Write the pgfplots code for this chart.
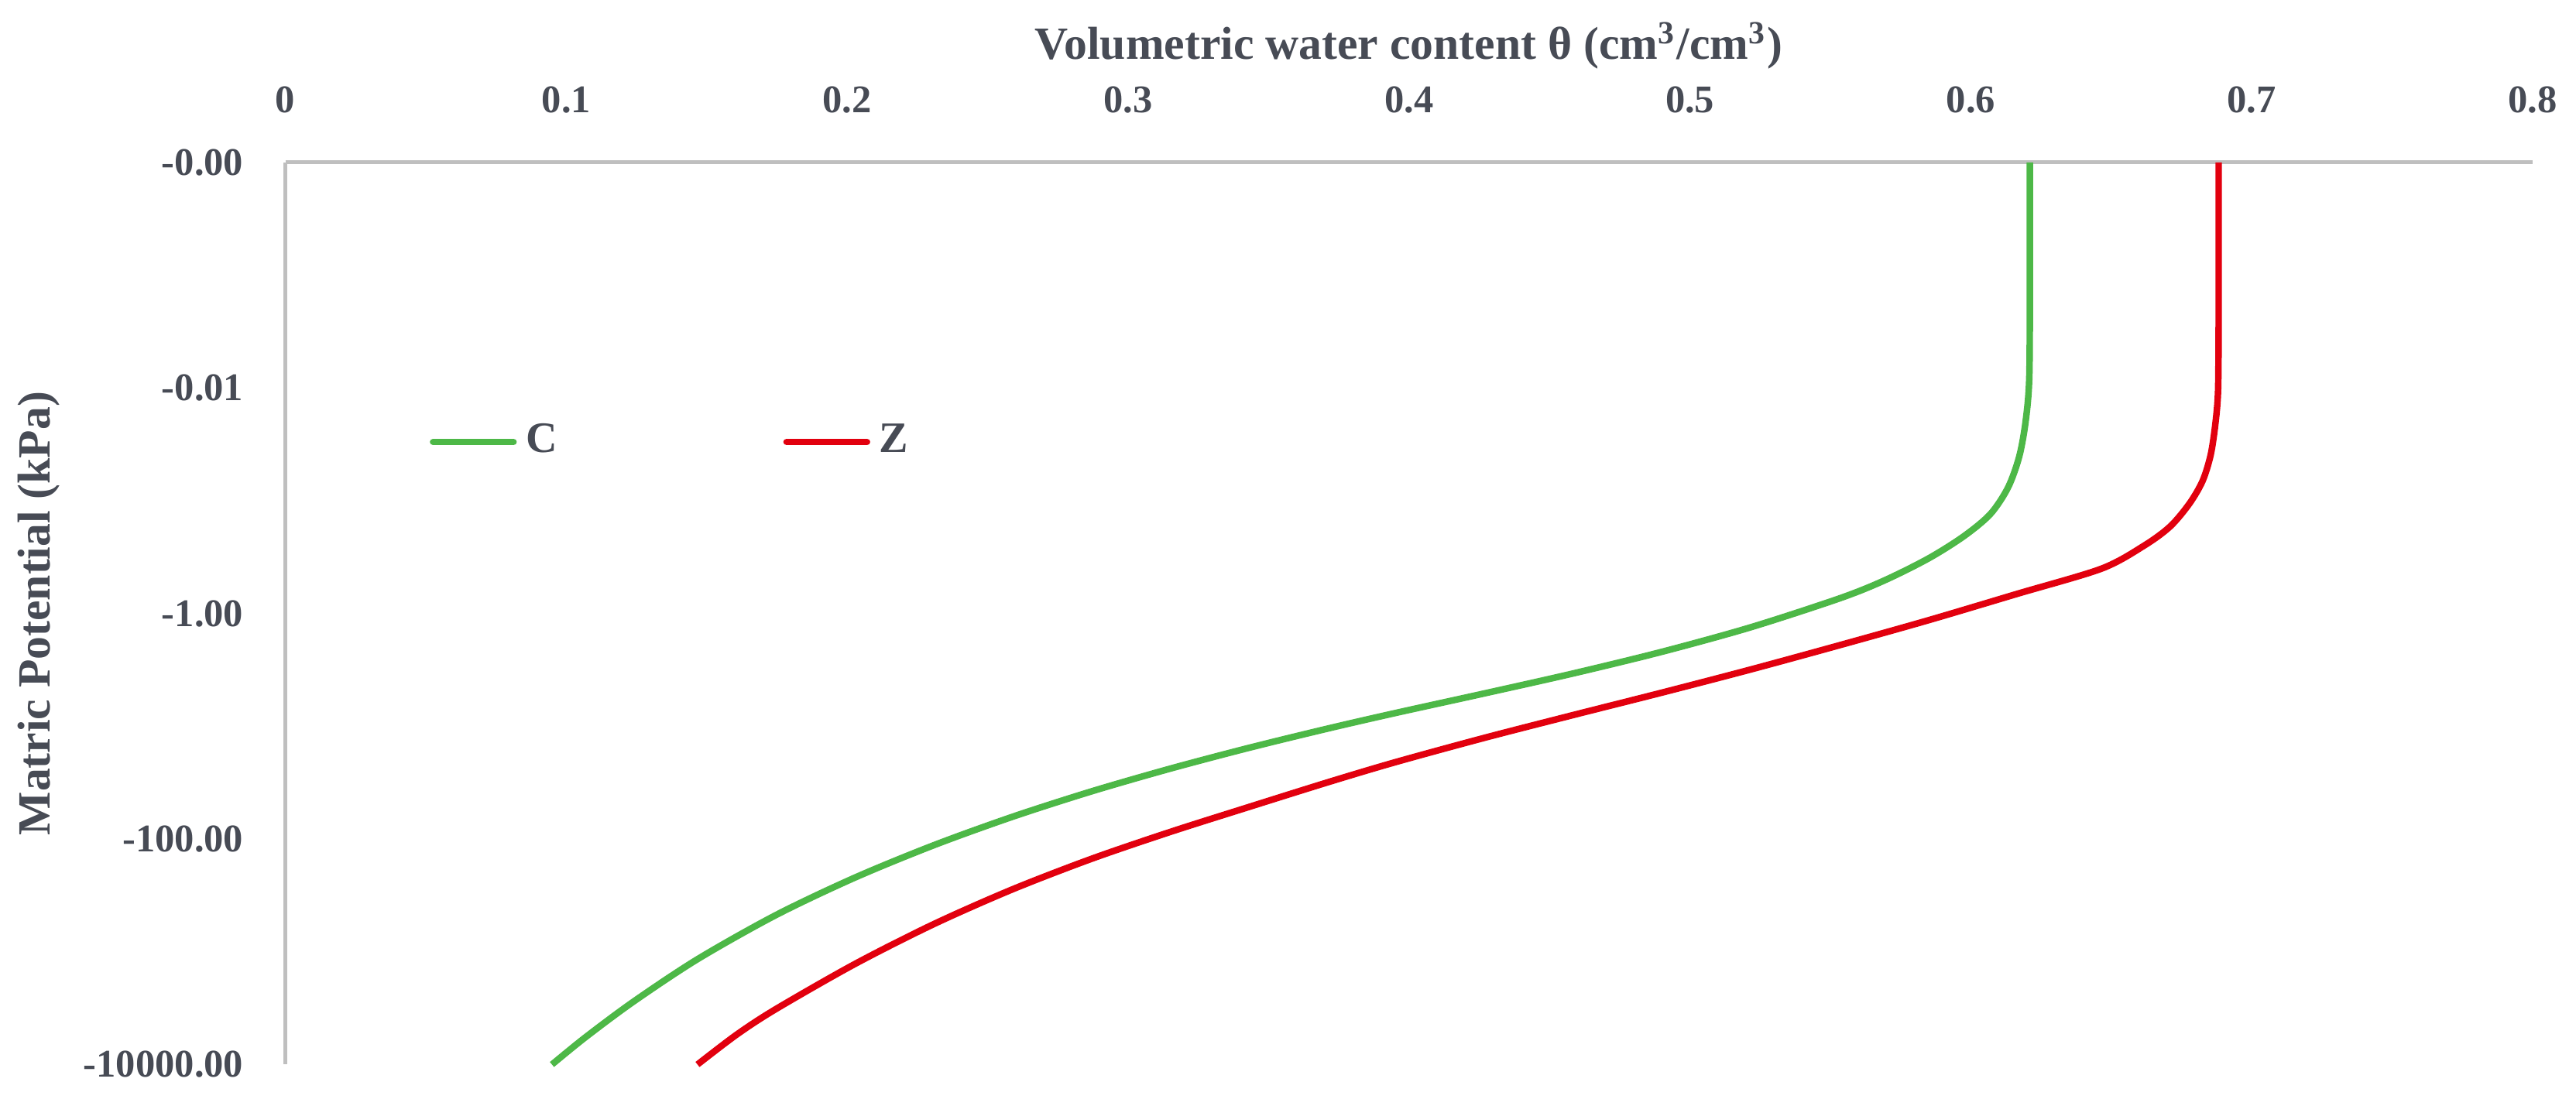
\documentclass[border=0pt]{standalone}
\usepackage{fontspec}
\setmainfont{Liberation Serif}
\usepackage{pgfplots}
\pgfplotsset{compat=1.18}
\definecolor{txt}{HTML}{474B55}
\definecolor{axgray}{HTML}{BFBFBF}
\definecolor{cgreen}{HTML}{4DB847}
\definecolor{zred}{HTML}{E2000E}

\begin{document}
\begin{tikzpicture}
\begin{axis}[
  name=ax,
  scale only axis,
  width=14.53cm, height=5.835cm,
  xmin=0, xmax=0.8,
  ymode=log, y dir=reverse,
  ymin=1e-4, ymax=1e4,
  axis x line=top, axis y line=left,
  axis line style={axgray, line width=0.7pt, -},
  major tick length=0pt, minor tick num=0,
  xtick={0,0.1,0.2,0.3,0.4,0.5,0.6,0.7,0.8},
  xticklabels={0,0.1,0.2,0.3,0.4,0.5,0.6,0.7,0.8},
  ytick={1e-4,1e-2,1,1e2,1e4},
  yticklabels={-0.00,-0.01,-1.00,-100.00,-10000.00},
  ticklabel style={font=\fontsize{7.2}{8}\selectfont\bfseries, text=txt, inner sep=0pt},
  xticklabel style={anchor=base, yshift=0.32cm},
  yticklabel style={anchor=east, xshift=-0.265cm},
  xlabel={Volumetric water content θ (cm\textsuperscript{3}/cm\textsuperscript{3})},
  xlabel style={at={(axis description cs:0.5,1.129)}, anchor=center,
    font=\fontsize{8.5}{10}\selectfont\bfseries, text=txt},
  ylabel={Matric Potential (kPa)},
  ylabel style={at={(axis description cs:-0.1096,0.5)}, anchor=center,
    font=\fontsize{8.5}{10}\selectfont\bfseries, text=txt},
  legend columns=2,
  legend style={at={(axis description cs:0.0638,0.69)}, anchor=west,
    draw=none, fill=none, inner sep=0pt,
    font=\fontsize{8}{9}\selectfont\bfseries, text=txt,
    nodes={inner sep=0pt, anchor=west},
    /tikz/every odd column/.append style={column sep=0.06cm},
    /tikz/every even column/.append style={column sep=1.46cm}},
  legend image code/.code={\draw[#1, line cap=round] (0cm,0cm) -- (0.52cm,0cm);},
  clip=false,
]
% C: theta (cm3/cm3) vs |matric potential| (kPa)
\addplot[cgreen, line width=1.2pt, smooth] coordinates {
  (0.6210,0.0001) (0.6210,0.001) (0.6208,0.007943) (0.6195,0.01972)
  (0.6172,0.04074) (0.6132,0.07674) (0.6069,0.1318) (0.5974,0.2075)
  (0.5848,0.3266) (0.5690,0.5129) (0.5531,0.7379) (0.5215,1.330)
  (0.4899,2.193) (0.4583,3.412) (0.4267,5.129) (0.3950,7.656)
  (0.3714,10.45) (0.3433,15.49) (0.3152,23.71) (0.2871,37.76)
  (0.2590,63.39) (0.2310,113.2) (0.2028,219.8) (0.1747,472.1)
  (0.1468,1161) (0.1240,2761) (0.1069,5715) (0.0949,10000)
};
\addlegendentry{C}
% Z
\addplot[zred, line width=1.2pt, smooth] coordinates {
  (0.6882,0.0001) (0.6882,0.001) (0.6882,0.002754) (0.6880,0.01047)
  (0.6871,0.02018) (0.6854,0.0389) (0.6825,0.06668) (0.6778,0.1062)
  (0.6709,0.1698) (0.6616,0.2512) (0.6465,0.4009) (0.6164,0.6714)
  (0.5848,1.151) (0.5531,1.919) (0.5215,3.148) (0.4899,5.047)
  (0.4583,7.980) (0.4267,12.71) (0.3950,20.89) (0.3714,31.26)
  (0.3433,51.76) (0.3152,86.30) (0.2871,149.6) (0.2590,278.6)
  (0.2310,566.2) (0.2028,1282) (0.1747,3214) (0.1607,5420)
  (0.1467,10000)
};
\addlegendentry{Z}
\end{axis}
\path ([xshift=-1.8275cm,yshift=-0.265cm]ax.south west) rectangle ([xshift=0.28cm,yshift=1.05cm]ax.north east);
\end{tikzpicture}
\end{document}
